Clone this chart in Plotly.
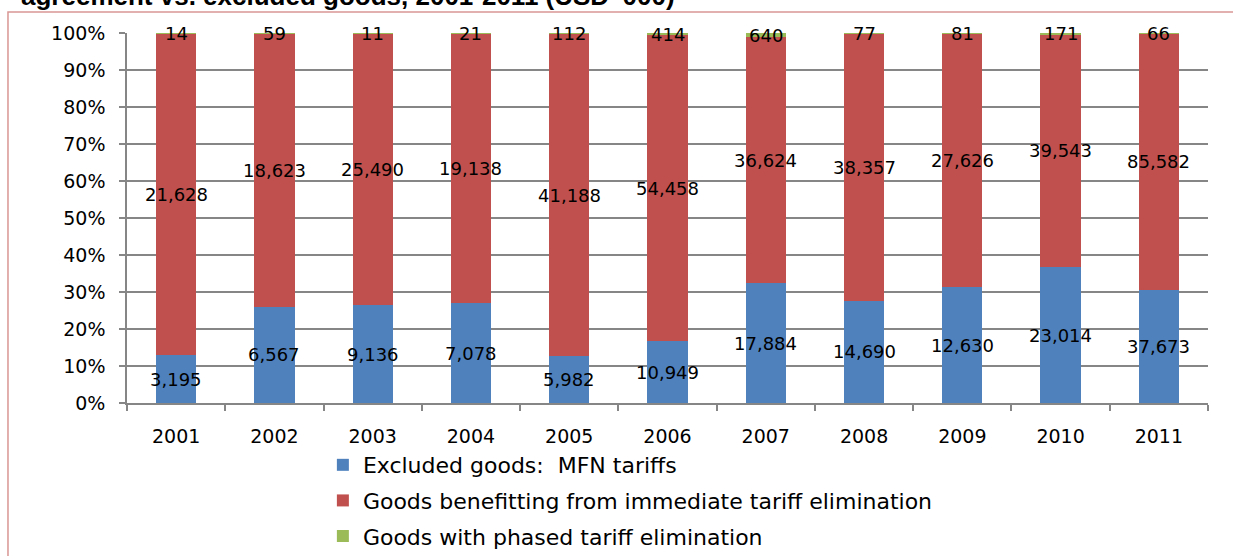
import plotly.graph_objects as go

# Imports by treatment category, USD '000
years = ["2001", "2002", "2003", "2004", "2005", "2006", "2007", "2008", "2009", "2010", "2011"]
excluded_mfn = [3195, 6567, 9136, 7078, 5982, 10949, 17884, 14690, 12630, 23014, 37673]
immediate_elim = [21628, 18623, 25490, 19138, 41188, 54458, 36624, 38357, 27626, 39543, 85582]
phased_elim = [14, 59, 11, 21, 112, 414, 640, 77, 81, 171, 66]

series = [
    ("Excluded goods:  MFN tariffs", excluded_mfn, "#4F81BD"),
    ("Goods benefitting from immediate tariff elimination", immediate_elim, "#C0504D"),
    ("Goods with phased tariff elimination", phased_elim, "#9BBB59"),
]

totals = [a + b + c for a, b, c in zip(excluded_mfn, immediate_elim, phased_elim)]

FAMILY = "DejaVu Sans, Verdana, sans-serif"
LABEL_FONT = dict(family=FAMILY, size=18, color="#000000")

fig = go.Figure()
annotations = []
base = [0.0] * len(years)
for k, (name, vals, color) in enumerate(series):
    fig.add_trace(go.Bar(
        x=years, y=vals, name=name, legendgroup=f"g{k}",
        marker=dict(color=color, line=dict(width=0)),
        hoverinfo="x+y+name",
    ))
    # value labels centred on each stacked segment (in percent of the year total)
    for i, v in enumerate(vals):
        share = v / totals[i] * 100.0
        mid = base[i] + share / 2.0
        base[i] += share
        annotations.append(dict(
            x=i, y=mid, xref="x", yref="y",
            text=f"{v:,}", showarrow=False,
            font=LABEL_FONT, xanchor="center", yanchor="middle",
        ))

# heading, partly cut off at the top edge of the page
annotations.append(dict(
    x=-0.0995, y=1.053, xref="paper", yref="paper",
    xanchor="left", yanchor="bottom", showarrow=False,
    text="agreement vs. excluded goods, 2001-2011 (USD '000)",
    font=dict(family="Liberation Sans, Arial, sans-serif", size=26, color="#000000", weight="bold"),
))

fig.update_layout(
    width=1233, height=556,
    barmode="stack", barnorm="percent", bargap=0.59,
    paper_bgcolor="#FFFFFF", plot_bgcolor="#FFFFFF",
    margin=dict(l=127, r=25, t=33, b=153),
    annotations=annotations,
    shapes=[dict(
        type="rect", xref="paper", yref="paper",
        x0=-0.1101, x1=1.1, y0=-0.6, y1=1.0568,
        line=dict(color="#D99694", width=1.5), fillcolor="rgba(0,0,0,0)", layer="below",
    )],
    legend=dict(
        orientation="v", x=0.1812, xanchor="left",
        y=0.2014, yref="container", yanchor="top",
        font=dict(family=FAMILY, size=22, color="#000000"),
        traceorder="grouped", bgcolor="rgba(0,0,0,0)", tracegroupgap=4,
        itemclick=False,
    ),
    showlegend=True,
)

fig.update_xaxes(
    type="category", categoryorder="array", categoryarray=years,
    showgrid=False, automargin=False,
    showline=True, linecolor="#868686", linewidth=1.5,
    ticks="outside", tickson="boundaries", ticklen=6, tickcolor="#868686", tickwidth=1.5,
    tickfont=dict(family=FAMILY, size=19, color="#000000"), ticklabelstandoff=15,
)
fig.update_yaxes(
    range=[0, 100], tickvals=list(range(0, 101, 10)),
    ticktext=[f"{v}%" for v in range(0, 101, 10)],
    showgrid=True, gridcolor="#868686", gridwidth=1.5, automargin=False,
    showline=True, linecolor="#868686", linewidth=1.5,
    ticks="outside", ticklen=6, tickcolor="#868686", tickwidth=1.5,
    tickfont=dict(family=FAMILY, size=19, color="#000000"), ticklabelstandoff=10, zeroline=False,
)

fig.write_html("out.html")
